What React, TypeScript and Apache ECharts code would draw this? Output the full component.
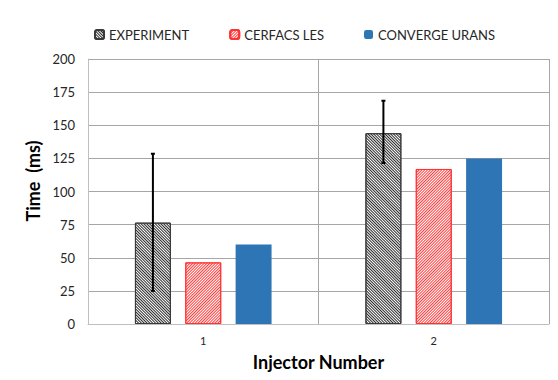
import React, { useEffect, useRef } from "react";
import * as echarts from "echarts";

const categories = ["1", "2"];
const seriesNames = ["EXPERIMENT", "CERFACS LES", "CONVERGE URANS"];
const experiment = [76.5, 144];
const cerfacs = [46.5, 117];
const converge = [60, 125];
const expErrLow = [25, 121.5];
const expErrHigh = [128.5, 168.5];
const yTicks = { min: 0, max: 200, interval: 25 };

const FONT = "Lato, 'Open Sans', sans-serif";
const BAR_FRAC = 0.156;
const GAP_FRAC = 0.4;

export default function App() {
  const ref = useRef<HTMLDivElement>(null);
  useEffect(() => {
    if (!ref.current) return;
    document.body.style.margin = "0";
    const chart = echarts.init(ref.current, null, { renderer: "svg" });
    const errData = categories.map((_, i) => [i, expErrLow[i], expErrHigh[i]]);
    chart.setOption({
      animation: false,
      backgroundColor: "#ffffff",
      textStyle: { fontFamily: FONT },
      legend: {
        left: 89,
        top: 23,
        itemWidth: 9,
        itemHeight: 9,
        itemGap: 40,
        textStyle: { fontSize: 13, color: "#262626", fontFamily: FONT },
        data: seriesNames,
      },
      grid: { left: 88, right: 9, top: 59, bottom: 56 },
      xAxis: {
        type: "category",
        data: categories,
        axisLine: { show: true, lineStyle: { color: "#BFBFBF" } },
        axisTick: { show: false },
        splitLine: { show: true, lineStyle: { color: "#A6A6A6" } },
        axisLabel: { fontSize: 11, color: "#262626", margin: 11, fontFamily: FONT },
        name: "Injector Number",
        nameLocation: "middle",
        nameGap: 29,
        nameTextStyle: { fontSize: 18, fontWeight: "bold", color: "#000", fontFamily: FONT },
      },
      yAxis: {
        type: "value",
        min: yTicks.min,
        max: yTicks.max,
        interval: yTicks.interval,
        axisLine: { show: true, lineStyle: { color: "#BFBFBF" } },
        axisTick: { show: false },
        splitLine: { show: true, lineStyle: { color: "#A6A6A6" } },
        axisLabel: { fontSize: 13, color: "#262626", margin: 13, fontFamily: FONT },
      },
      graphic: [
        {
          type: "text",
          x: 33,
          y: 181,
          rotation: Math.PI / 2,
          style: {
            text: "Time  (ms)",
            fontSize: 18,
            fontWeight: "bold",
            fontFamily: FONT,
            fill: "#000",
            align: "center",
            verticalAlign: "middle",
          },
        },
      ],
      series: [
        {
          name: seriesNames[0],
          type: "bar",
          data: experiment,
          barWidth: BAR_FRAC * 100 + "%",
          barGap: GAP_FRAC * 100 + "%",
          itemStyle: {
            color: "#ffffff",
            borderColor: "#3a3a3a",
            borderWidth: 1,
            decal: {
              symbol: "rect",
              symbolSize: 1,
              color: "#2a2a2a",
              dashArrayX: [1, 0],
              dashArrayY: [1, 1],
              rotation: Math.PI / 4,
            },
          },
        },
        {
          name: seriesNames[1],
          type: "bar",
          data: cerfacs,
          barWidth: BAR_FRAC * 100 + "%",
          barGap: GAP_FRAC * 100 + "%",
          itemStyle: {
            color: "#ffffff",
            borderColor: "#FF3333",
            borderWidth: 1,
            decal: {
              symbol: "rect",
              symbolSize: 1,
              color: "#FF3B3B",
              dashArrayX: [1, 0],
              dashArrayY: [1, 1],
              rotation: -Math.PI / 4,
            },
          },
        },
        {
          name: seriesNames[2],
          type: "bar",
          data: converge,
          barWidth: BAR_FRAC * 100 + "%",
          barGap: GAP_FRAC * 100 + "%",
          itemStyle: { color: "#2E75B6" },
        },
        {
          type: "custom",
          name: "errors",
          data: errData,
          z: 10,
          renderItem: (params: any, api: any) => {
            const idx = api.value(0);
            const lo = api.coord([idx, api.value(1)]);
            const hi = api.coord([idx, api.value(2)]);
            const band = api.size([1, 0])[0];
            const bw = band * BAR_FRAC;
            const x = lo[0] - bw * (1 + GAP_FRAC);
            const cap = 2;
            const st = { stroke: "#000", lineWidth: 2 };
            return {
              type: "group",
              children: [
                { type: "line", shape: { x1: x, y1: lo[1], x2: x, y2: hi[1] }, style: st },
                { type: "line", shape: { x1: x - cap, y1: hi[1], x2: x + cap, y2: hi[1] }, style: st },
                { type: "line", shape: { x1: x - cap, y1: lo[1], x2: x + cap, y2: lo[1] }, style: st },
              ],
            };
          },
        },
      ],
    });
    return () => chart.dispose();
  }, []);
  return <div ref={ref} style={{ width: 558, height: 380 }} />;
}
